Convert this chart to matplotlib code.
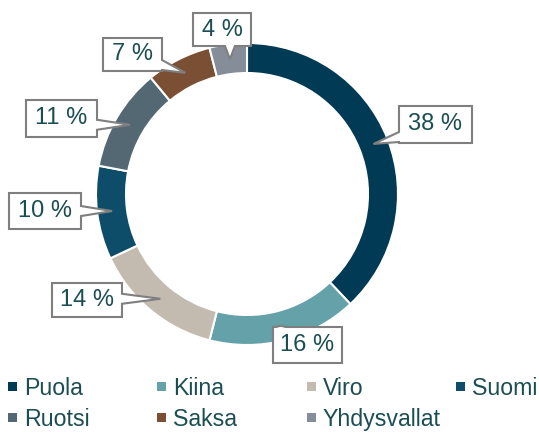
import numpy as np
import matplotlib.pyplot as plt
from matplotlib.patches import Polygon, Rectangle

plt.rcParams['font.family'] = ['Liberation Sans', 'DejaVu Sans']

countries = ['Puola', 'Kiina', 'Viro', 'Suomi', 'Ruotsi', 'Saksa', 'Yhdysvallat']
shares = [38, 16, 14, 10, 11, 7, 4]
colors = ['#003a55', '#64a1a8', '#c3bab0', '#0d4d6a', '#546873', '#7b4f33', '#858d98']
labels = ['%d %%' % s for s in shares]

# callout boxes in pixels: left, top, right, bottom
boxes = [(399, 106, 472, 143), (273, 327, 342, 363), (52, 283, 122, 317),
         (9, 193, 81, 229), (26, 100, 97, 137), (103, 38, 162, 71),
         (193, 13, 251, 46)]

W, H = 539, 432
txt = '#1b4e52'

fig = plt.figure(figsize=(W / 100, H / 100), dpi=100)
ax = fig.add_axes([0, 0, 1, 1])
cx, cy, R, ring = 247, H - 194, 151, 30
wedges, _ = ax.pie(shares, colors=colors, startangle=90, counterclock=False,
                   radius=R, center=(cx, cy),
                   wedgeprops=dict(width=ring, edgecolor='white', linewidth=1.5))
ax.set_xlim(0, W)
ax.set_ylim(0, H)
ax.set_aspect('equal')
ax.axis('off')


def clamp(v, lo, hi):
    return max(lo, min(hi, v))


h = 5
for w, lab, (l, t, r, b) in zip(wedges, labels, boxes):
    ang = np.deg2rad((w.theta1 + w.theta2) / 2)
    tx = cx + (R - ring / 2) * np.cos(ang)
    ty = cy + (R - ring / 2) * np.sin(ang)
    x0, x1, yt, yb = l, r, H - t, H - b
    ex = max(x0 - tx, tx - x1, 0)
    ey = max(ty - yt, yb - ty, 0)
    if ex >= ey:
        c = clamp(ty, yb + h + 1, yt - h - 1)
        if tx < x0:
            pts = [(x0, yb), (x1, yb), (x1, yt), (x0, yt), (x0, c + h), (tx, ty), (x0, c - h)]
        else:
            pts = [(x0, yb), (x1, yb), (x1, c - h), (tx, ty), (x1, c + h), (x1, yt), (x0, yt)]
    else:
        c = clamp(tx, x0 + h + 1, x1 - h - 1)
        if ty > yt:
            pts = [(x0, yb), (x1, yb), (x1, yt), (c + h, yt), (tx, ty), (c - h, yt), (x0, yt)]
        else:
            pts = [(x0, yb), (c - h, yb), (tx, ty), (c + h, yb), (x1, yb), (x1, yt), (x0, yt)]
    ax.add_patch(Polygon(pts, closed=True, facecolor='white', edgecolor='#7f7f7f',
                         linewidth=1.5, zorder=3))
    ax.text((x0 + x1) / 2, (yt + yb) / 2, lab, ha='center', va='center',
            fontsize=17, color=txt, zorder=4)

# legend
for i, (name, col) in enumerate(zip(countries, colors)):
    row, c = divmod(i, 4)
    mx = 8 + 149.3 * c
    base = H - (395 + 31 * row)
    ax.add_patch(Rectangle((mx, base + 4), 9, 9, facecolor=col, edgecolor='none'))
    ax.text(mx + 16, base, name, ha='left', va='baseline', fontsize=16.7, color=txt)

fig.savefig('out.png', dpi=100)
